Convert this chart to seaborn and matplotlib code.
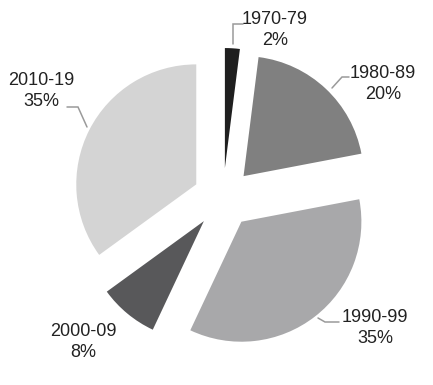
import matplotlib
matplotlib.use("Agg")
import matplotlib.pyplot as plt
import seaborn as sns

sns.set_theme(style="white")
plt.rcParams['font.family'] = ['Liberation Sans', 'DejaVu Sans']

# Data
decades = ["1970-79", "1980-89", "1990-99", "2000-09", "2010-19"]
shares = [2, 20, 35, 8, 35]
colors = ["#1f1f1f", "#808080", "#a8a8aa", "#58585a", "#d4d4d4"]

W, H = 433, 385
fig = plt.figure(figsize=(W / 100, H / 100), dpi=100)
ax = fig.add_axes([0, 0, 1, 1])

R = 120
ax.pie(shares, colors=colors, startangle=90, counterclock=False,
       radius=R, center=(223, -198), explode=[30] * len(shares),
       wedgeprops=dict(linewidth=0), frame=False)
ax.set_xlim(0, W)
ax.set_ylim(-H, 0)
ax.set_aspect("equal")
ax.axis("off")

label_pos = {
    "1970-79": (275, 30),
    "1980-89": (383, 84),
    "1990-99": (375, 328),
    "2000-09": (83, 342),
    "2010-19": (41, 91),
}
leaders = {
    "1970-79": [(243, 24), (233, 24), (233, 44)],
    "1980-89": [(349, 77), (342, 77), (332, 88)],
    "1990-99": [(339, 322), (325, 322), (318, 318)],
    "2010-19": [(67, 107), (78, 107), (87, 127)],
}
for d, s in zip(decades, shares):
    x, y = label_pos[d]
    ax.text(x, -y, f"{d}\n{s}%", ha="center", va="center", fontsize=13,
            color="#222222", linespacing=1.3)
    if d in leaders:
        pts = leaders[d]
        ax.plot([p[0] for p in pts], [-p[1] for p in pts], color="#9a9a9a",
                lw=1.1, solid_joinstyle="miter")

fig.savefig("out.png", dpi=100, facecolor="white")
